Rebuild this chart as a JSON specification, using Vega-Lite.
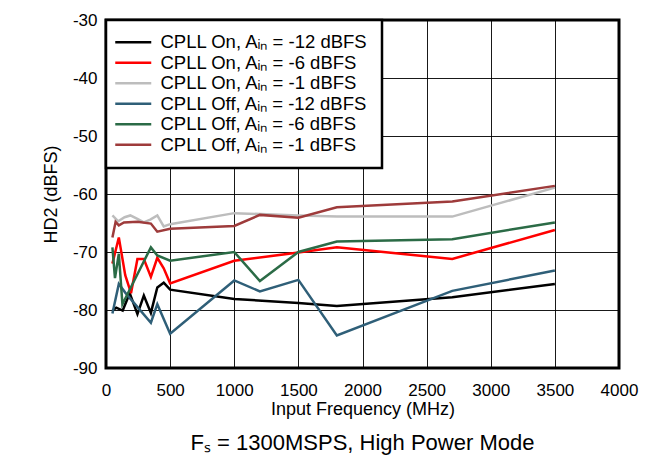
{
  "$schema": "https://vega.github.io/schema/vega-lite/v6.json",
  "width": 513,
  "height": 348,
  "autosize": "none",
  "padding": {"left": 106, "top": 20, "right": 42, "bottom": 92},
  "background": "white",
  "config": {
    "font": "Liberation Sans",
    "view": {"stroke": "#000", "strokeWidth": 3}
  },
  "title": {
    "text": "Fₛ = 1300MSPS, High Power Mode",
    "orient": "bottom",
    "fontSize": 22,
    "fontWeight": "normal",
    "color": "#000",
    "offset": 15
  },
  "data": {
    "values": [
      {"s": "CPLL On, Aᵢₙ = -12 dBFS", "f": 50, "v": -80.1},
      {"s": "CPLL On, Aᵢₙ = -12 dBFS", "f": 80, "v": -79.6},
      {"s": "CPLL On, Aᵢₙ = -12 dBFS", "f": 130, "v": -80.1},
      {"s": "CPLL On, Aᵢₙ = -12 dBFS", "f": 185, "v": -77.1},
      {"s": "CPLL On, Aᵢₙ = -12 dBFS", "f": 245, "v": -80.7},
      {"s": "CPLL On, Aᵢₙ = -12 dBFS", "f": 295, "v": -77.5},
      {"s": "CPLL On, Aᵢₙ = -12 dBFS", "f": 350, "v": -80.5},
      {"s": "CPLL On, Aᵢₙ = -12 dBFS", "f": 400, "v": -76.1},
      {"s": "CPLL On, Aᵢₙ = -12 dBFS", "f": 450, "v": -75.3},
      {"s": "CPLL On, Aᵢₙ = -12 dBFS", "f": 500, "v": -76.5},
      {"s": "CPLL On, Aᵢₙ = -12 dBFS", "f": 1000, "v": -78.1},
      {"s": "CPLL On, Aᵢₙ = -12 dBFS", "f": 1500, "v": -78.8},
      {"s": "CPLL On, Aᵢₙ = -12 dBFS", "f": 1800, "v": -79.3},
      {"s": "CPLL On, Aᵢₙ = -12 dBFS", "f": 2700, "v": -77.8},
      {"s": "CPLL On, Aᵢₙ = -12 dBFS", "f": 3500, "v": -75.5},

      {"s": "CPLL On, Aᵢₙ = -6 dBFS", "f": 50, "v": -72.0},
      {"s": "CPLL On, Aᵢₙ = -6 dBFS", "f": 100, "v": -67.5},
      {"s": "CPLL On, Aᵢₙ = -6 dBFS", "f": 150, "v": -74.0},
      {"s": "CPLL On, Aᵢₙ = -6 dBFS", "f": 195, "v": -77.1},
      {"s": "CPLL On, Aᵢₙ = -6 dBFS", "f": 245, "v": -71.2},
      {"s": "CPLL On, Aᵢₙ = -6 dBFS", "f": 295, "v": -71.2},
      {"s": "CPLL On, Aᵢₙ = -6 dBFS", "f": 350, "v": -74.3},
      {"s": "CPLL On, Aᵢₙ = -6 dBFS", "f": 400, "v": -71.0},
      {"s": "CPLL On, Aᵢₙ = -6 dBFS", "f": 450, "v": -72.8},
      {"s": "CPLL On, Aᵢₙ = -6 dBFS", "f": 500, "v": -75.4},
      {"s": "CPLL On, Aᵢₙ = -6 dBFS", "f": 1000, "v": -71.5},
      {"s": "CPLL On, Aᵢₙ = -6 dBFS", "f": 1500, "v": -70.1},
      {"s": "CPLL On, Aᵢₙ = -6 dBFS", "f": 1800, "v": -69.2},
      {"s": "CPLL On, Aᵢₙ = -6 dBFS", "f": 2700, "v": -71.2},
      {"s": "CPLL On, Aᵢₙ = -6 dBFS", "f": 3500, "v": -66.2},

      {"s": "CPLL On, Aᵢₙ = -1 dBFS", "f": 50, "v": -63.7},
      {"s": "CPLL On, Aᵢₙ = -1 dBFS", "f": 95, "v": -64.7},
      {"s": "CPLL On, Aᵢₙ = -1 dBFS", "f": 145, "v": -64.0},
      {"s": "CPLL On, Aᵢₙ = -1 dBFS", "f": 190, "v": -63.7},
      {"s": "CPLL On, Aᵢₙ = -1 dBFS", "f": 245, "v": -64.3},
      {"s": "CPLL On, Aᵢₙ = -1 dBFS", "f": 295, "v": -64.9},
      {"s": "CPLL On, Aᵢₙ = -1 dBFS", "f": 345, "v": -64.4},
      {"s": "CPLL On, Aᵢₙ = -1 dBFS", "f": 400, "v": -63.7},
      {"s": "CPLL On, Aᵢₙ = -1 dBFS", "f": 450, "v": -65.6},
      {"s": "CPLL On, Aᵢₙ = -1 dBFS", "f": 500, "v": -65.2},
      {"s": "CPLL On, Aᵢₙ = -1 dBFS", "f": 1000, "v": -63.3},
      {"s": "CPLL On, Aᵢₙ = -1 dBFS", "f": 1500, "v": -63.7},
      {"s": "CPLL On, Aᵢₙ = -1 dBFS", "f": 1800, "v": -63.9},
      {"s": "CPLL On, Aᵢₙ = -1 dBFS", "f": 2700, "v": -63.9},
      {"s": "CPLL On, Aᵢₙ = -1 dBFS", "f": 3500, "v": -58.9},

      {"s": "CPLL Off, Aᵢₙ = -12 dBFS", "f": 50, "v": -80.6},
      {"s": "CPLL Off, Aᵢₙ = -12 dBFS", "f": 100, "v": -75.5},
      {"s": "CPLL Off, Aᵢₙ = -12 dBFS", "f": 150, "v": -77.0},
      {"s": "CPLL Off, Aᵢₙ = -12 dBFS", "f": 350, "v": -82.2},
      {"s": "CPLL Off, Aᵢₙ = -12 dBFS", "f": 400, "v": -79.0},
      {"s": "CPLL Off, Aᵢₙ = -12 dBFS", "f": 500, "v": -84.1},
      {"s": "CPLL Off, Aᵢₙ = -12 dBFS", "f": 1000, "v": -74.9},
      {"s": "CPLL Off, Aᵢₙ = -12 dBFS", "f": 1200, "v": -76.8},
      {"s": "CPLL Off, Aᵢₙ = -12 dBFS", "f": 1500, "v": -74.8},
      {"s": "CPLL Off, Aᵢₙ = -12 dBFS", "f": 1800, "v": -84.4},
      {"s": "CPLL Off, Aᵢₙ = -12 dBFS", "f": 2700, "v": -76.7},
      {"s": "CPLL Off, Aᵢₙ = -12 dBFS", "f": 3500, "v": -73.2},

      {"s": "CPLL Off, Aᵢₙ = -6 dBFS", "f": 50, "v": -69.2},
      {"s": "CPLL Off, Aᵢₙ = -6 dBFS", "f": 70, "v": -74.5},
      {"s": "CPLL Off, Aᵢₙ = -6 dBFS", "f": 100, "v": -70.3},
      {"s": "CPLL Off, Aᵢₙ = -6 dBFS", "f": 128, "v": -79.0},
      {"s": "CPLL Off, Aᵢₙ = -6 dBFS", "f": 350, "v": -69.2},
      {"s": "CPLL Off, Aᵢₙ = -6 dBFS", "f": 400, "v": -70.6},
      {"s": "CPLL Off, Aᵢₙ = -6 dBFS", "f": 500, "v": -71.5},
      {"s": "CPLL Off, Aᵢₙ = -6 dBFS", "f": 1000, "v": -70.0},
      {"s": "CPLL Off, Aᵢₙ = -6 dBFS", "f": 1200, "v": -75.0},
      {"s": "CPLL Off, Aᵢₙ = -6 dBFS", "f": 1500, "v": -70.0},
      {"s": "CPLL Off, Aᵢₙ = -6 dBFS", "f": 1800, "v": -68.2},
      {"s": "CPLL Off, Aᵢₙ = -6 dBFS", "f": 2700, "v": -67.8},
      {"s": "CPLL Off, Aᵢₙ = -6 dBFS", "f": 3500, "v": -64.9},

      {"s": "CPLL Off, Aᵢₙ = -1 dBFS", "f": 50, "v": -67.5},
      {"s": "CPLL Off, Aᵢₙ = -1 dBFS", "f": 75, "v": -64.8},
      {"s": "CPLL Off, Aᵢₙ = -1 dBFS", "f": 100, "v": -65.4},
      {"s": "CPLL Off, Aᵢₙ = -1 dBFS", "f": 140, "v": -64.9},
      {"s": "CPLL Off, Aᵢₙ = -1 dBFS", "f": 245, "v": -64.8},
      {"s": "CPLL Off, Aᵢₙ = -1 dBFS", "f": 350, "v": -65.1},
      {"s": "CPLL Off, Aᵢₙ = -1 dBFS", "f": 400, "v": -66.5},
      {"s": "CPLL Off, Aᵢₙ = -1 dBFS", "f": 500, "v": -66.0},
      {"s": "CPLL Off, Aᵢₙ = -1 dBFS", "f": 1000, "v": -65.5},
      {"s": "CPLL Off, Aᵢₙ = -1 dBFS", "f": 1200, "v": -63.6},
      {"s": "CPLL Off, Aᵢₙ = -1 dBFS", "f": 1500, "v": -64.1},
      {"s": "CPLL Off, Aᵢₙ = -1 dBFS", "f": 1800, "v": -62.3},
      {"s": "CPLL Off, Aᵢₙ = -1 dBFS", "f": 2700, "v": -61.3},
      {"s": "CPLL Off, Aᵢₙ = -1 dBFS", "f": 3500, "v": -58.6}
    ]
  },
  "mark": {"type": "line", "strokeWidth": 2.5},
  "encoding": {
    "x": {
      "field": "f",
      "type": "quantitative",
      "scale": {"domain": [0, 4000], "nice": false, "zero": false},
      "axis": {
        "title": "Input Frequency (MHz)",
        "values": [0, 500, 1000, 1500, 2000, 2500, 3000, 3500, 4000],
        "labelExpr": "'' + datum.value",
        "grid": true,
        "gridColor": "#000",
        "gridOpacity": 0.9,
        "gridWidth": 1,
        "ticks": false,
        "domain": false,
        "labelFlush": false,
        "labelFontSize": 17,
        "labelColor": "#000",
        "labelPadding": 14,
        "titleFontSize": 18,
        "titleFontWeight": "normal",
        "titleColor": "#000",
        "titlePadding": 2
      }
    },
    "y": {
      "field": "v",
      "type": "quantitative",
      "scale": {"domain": [-90, -30], "nice": false, "zero": false},
      "axis": {
        "title": "HD2 (dBFS)",
        "values": [-90, -80, -70, -60, -50, -40, -30],
        "labelExpr": "'' + datum.value",
        "grid": true,
        "gridColor": "#000",
        "gridOpacity": 0.9,
        "gridWidth": 1,
        "ticks": false,
        "domain": false,
        "labelFlush": false,
        "labelFontSize": 17,
        "labelColor": "#000",
        "labelPadding": 9,
        "titleFontSize": 18,
        "titleFontWeight": "normal",
        "titleColor": "#000",
        "titlePadding": 12
      }
    },
    "color": {
      "field": "s",
      "type": "nominal",
      "scale": {
        "domain": [
          "CPLL On, Aᵢₙ = -12 dBFS",
          "CPLL On, Aᵢₙ = -6 dBFS",
          "CPLL On, Aᵢₙ = -1 dBFS",
          "CPLL Off, Aᵢₙ = -12 dBFS",
          "CPLL Off, Aᵢₙ = -6 dBFS",
          "CPLL Off, Aᵢₙ = -1 dBFS"
        ],
        "range": ["#000000", "#ff0000", "#bdbdbd", "#2f5f78", "#2b6b46", "#9e3b3b"]
      },
      "legend": {
        "title": null,
        "orient": "top-left",
        "offset": 0,
        "padding": 13,
        "strokeColor": "#000",
        "fillColor": "#fff",
        "cornerRadius": 0,
        "labelFontSize": 18.5,
        "labelColor": "#000",
        "labelLimit": 400,
        "symbolType": "M-3.6,0H3.6",
        "symbolSize": 100,
        "symbolStrokeWidth": 2.5,
        "symbolOffset": 5,
        "labelOffset": 18,
        "rowPadding": 1.5,
        "encode": {"legend": {"update": {"strokeWidth": {"value": 2.5}}}}
      }
    }
  }
}
